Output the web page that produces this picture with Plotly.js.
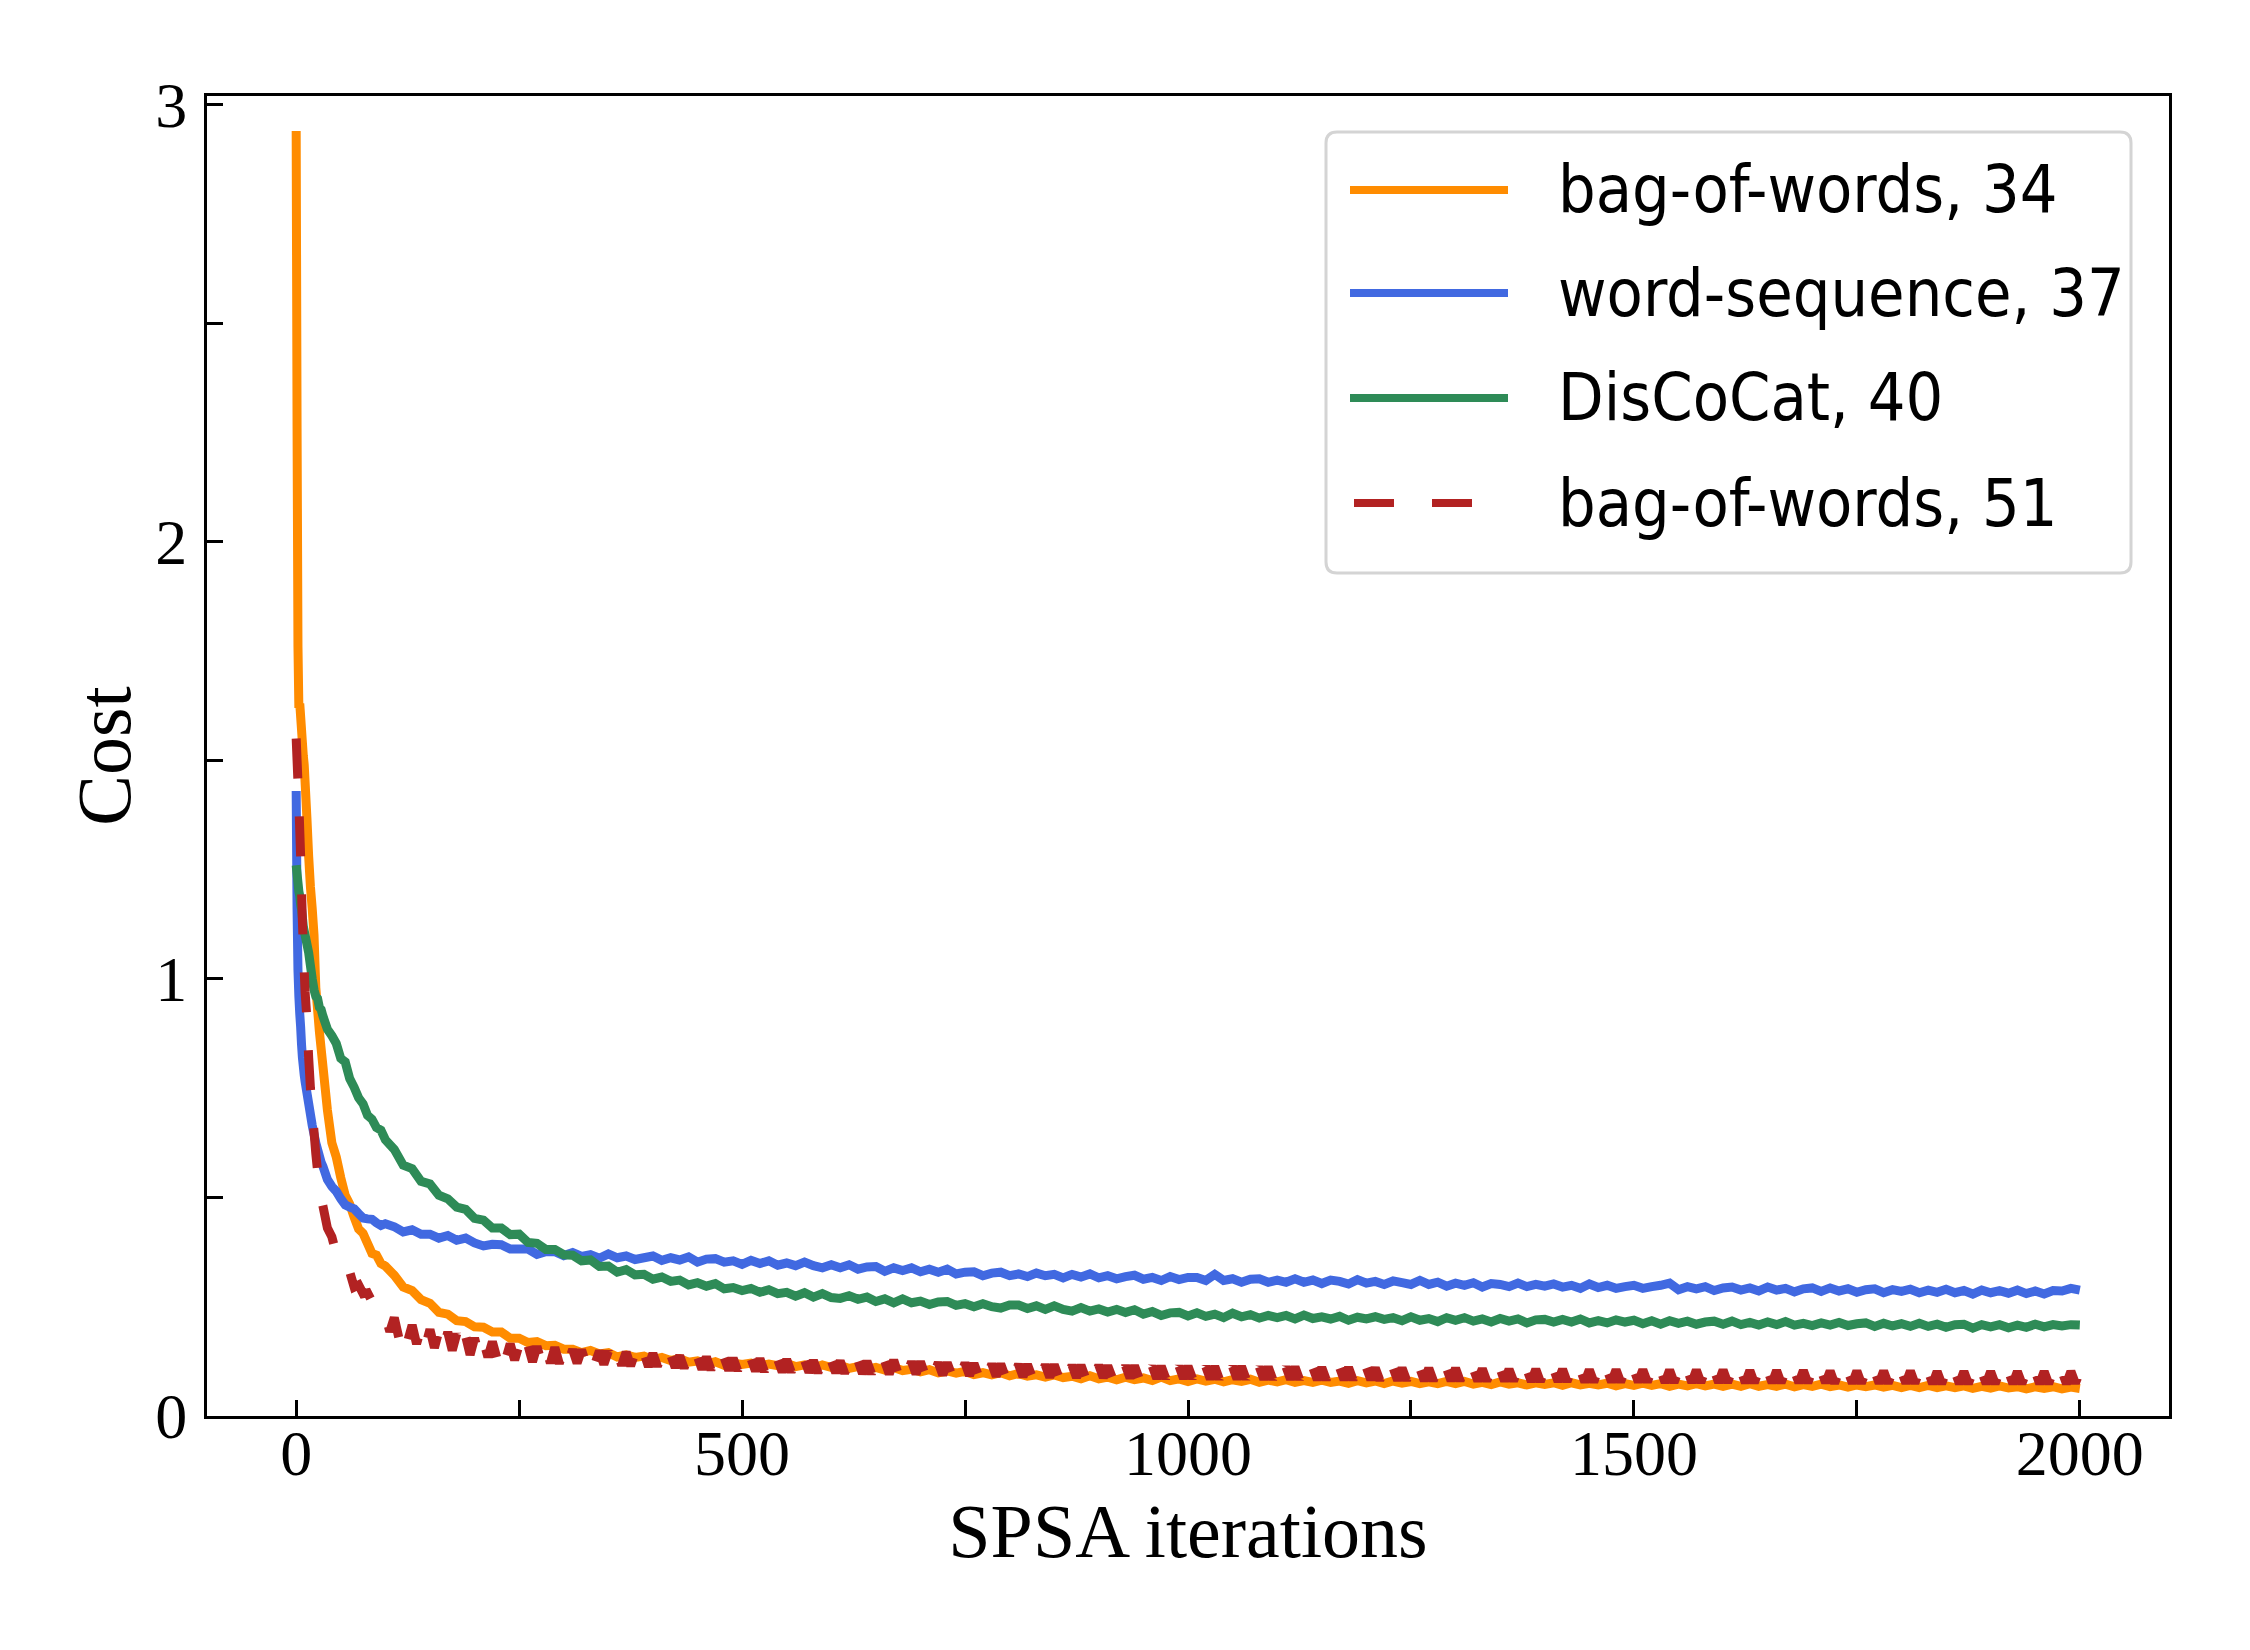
<!DOCTYPE html>
<html>
<head>
<meta charset="utf-8">
<script src="https://cdn.plot.ly/plotly-3.0.1.min.js"></script>
<style>
  html, body { margin: 0; padding: 0; background: #ffffff; }
  #chart { width: 2250px; height: 1650px; }
</style>
</head>
<body>
<div id="chart"></div>
<script>
// ---- data ----
const iterations = [
  0,1,2,3,4,5,6,7,8,9,10,12,14,16,18,20,22,24,26,28,30,35,40,45,50,55,60,65,70,75,80,85,90,95,100,
  110,120,130,140,150,160,170,180,190,200,
  210,220,230,240,250,260,270,280,290,300,
  310,320,330,340,350,360,370,380,390,400,
  410,420,430,440,450,460,470,480,490,500,
  510,520,530,540,550,560,570,580,590,600,
  610,620,630,640,650,660,670,680,690,700,
  710,720,730,740,750,760,770,780,790,800,
  810,820,830,840,850,860,870,880,890,900,
  910,920,930,940,950,960,970,980,990,1000,
  1010,1020,1030,1040,1050,1060,1070,1080,1090,1100,
  1110,1120,1130,1140,1150,1160,1170,1180,1190,1200,
  1210,1220,1230,1240,1250,1260,1270,1280,1290,1300,
  1310,1320,1330,1340,1350,1360,1370,1380,1390,1400,
  1410,1420,1430,1440,1450,1460,1470,1480,1490,1500,
  1510,1520,1530,1540,1550,1560,1570,1580,1590,1600,
  1610,1620,1630,1640,1650,1660,1670,1680,1690,1700,
  1710,1720,1730,1740,1750,1760,1770,1780,1790,1800,
  1810,1820,1830,1840,1850,1860,1870,1880,1890,1900,
  1910,1920,1930,1940,1950,1960,1970,1980,1990,2000
];

// the dashed run was read at a finer step (its noise is what shapes the dashes)
const iterationsFine = [
  0,1,2,3,4,5,6,7,8,9,10,12,14,16,18,20,22,24,26,28,30,35,40,45,50,55,60,65,70,75,80,85,90,95,100,
  105,110,115,120,125,130,135,140,145,150,155,160,165,170,175,180,185,190,195,200,
  205,210,215,220,225,230,235,240,245,250,255,260,265,270,275,280,285,290,295,300,
  305,310,315,320,325,330,335,340,345,350,355,360,365,370,375,380,385,390,395,400,
  405,410,415,420,425,430,435,440,445,450,455,460,465,470,475,480,485,490,495,500,
  505,510,515,520,525,530,535,540,545,550,555,560,565,570,575,580,585,590,595,600,
  605,610,615,620,625,630,635,640,645,650,655,660,665,670,675,680,685,690,695,700,
  705,710,715,720,725,730,735,740,745,750,755,760,765,770,775,780,785,790,795,800,
  805,810,815,820,825,830,835,840,845,850,855,860,865,870,875,880,885,890,895,900,
  905,910,915,920,925,930,935,940,945,950,955,960,965,970,975,980,985,990,995,1000,
  1005,1010,1015,1020,1025,1030,1035,1040,1045,1050,1055,1060,1065,1070,1075,1080,1085,1090,1095,1100,
  1105,1110,1115,1120,1125,1130,1135,1140,1145,1150,1155,1160,1165,1170,1175,1180,1185,1190,1195,1200,
  1205,1210,1215,1220,1225,1230,1235,1240,1245,1250,1255,1260,1265,1270,1275,1280,1285,1290,1295,1300,
  1305,1310,1315,1320,1325,1330,1335,1340,1345,1350,1355,1360,1365,1370,1375,1380,1385,1390,1395,1400,
  1405,1410,1415,1420,1425,1430,1435,1440,1445,1450,1455,1460,1465,1470,1475,1480,1485,1490,1495,1500,
  1505,1510,1515,1520,1525,1530,1535,1540,1545,1550,1555,1560,1565,1570,1575,1580,1585,1590,1595,1600,
  1605,1610,1615,1620,1625,1630,1635,1640,1645,1650,1655,1660,1665,1670,1675,1680,1685,1690,1695,1700,
  1705,1710,1715,1720,1725,1730,1735,1740,1745,1750,1755,1760,1765,1770,1775,1780,1785,1790,1795,1800,
  1805,1810,1815,1820,1825,1830,1835,1840,1845,1850,1855,1860,1865,1870,1875,1880,1885,1890,1895,1900,
  1905,1910,1915,1920,1925,1930,1935,1940,1945,1950,1955,1960,1965,1970,1975,1980,1985,1990,1995,2000
];

const bagOfWords34 = [
  2.94,2.26,1.76,1.62,1.63,1.60,1.57,1.54,1.51,1.49,1.45,
  1.37,1.28,1.21,1.16,1.10,0.98,0.93,0.88,0.84,0.80,
  0.70,0.625,0.592,0.545,0.505,0.485,0.455,0.428,0.418,0.395,0.372,0.368,0.349,0.343,
  0.322,0.295,0.287,0.266,0.258,0.237,0.233,0.218,0.216,0.204,
  0.203,0.192,0.192,0.178,0.178,0.168,0.170,0.161,0.162,0.153,
  0.153,0.145,0.150,0.142,0.145,0.135,0.140,0.134,0.137,0.129,
  0.134,0.127,0.131,0.123,0.126,0.119,0.124,0.116,0.121,0.118,
  0.121,0.115,0.119,0.115,0.120,0.113,0.117,0.110,0.117,0.111,
  0.115,0.109,0.113,0.107,0.111,0.105,0.111,0.104,0.107,0.101,
  0.106,0.099,0.103,0.098,0.102,0.095,0.099,0.094,0.099,0.092,
  0.097,0.091,0.094,0.089,0.094,0.088,0.091,0.085,0.092,0.085,
  0.089,0.083,0.089,0.083,0.087,0.081,0.089,0.081,0.085,0.079,
  0.085,0.080,0.084,0.078,0.083,0.079,0.084,0.077,0.082,0.078,
  0.083,0.077,0.081,0.077,0.082,0.077,0.080,0.075,0.081,0.076,
  0.080,0.074,0.080,0.075,0.079,0.074,0.078,0.074,0.079,0.074,
  0.079,0.073,0.077,0.072,0.078,0.073,0.076,0.071,0.076,0.072,
  0.076,0.070,0.076,0.071,0.075,0.071,0.075,0.069,0.074,0.070,
  0.075,0.070,0.074,0.068,0.073,0.069,0.074,0.069,0.073,0.068,
  0.073,0.068,0.074,0.068,0.072,0.068,0.073,0.067,0.072,0.068,
  0.073,0.067,0.071,0.066,0.071,0.067,0.071,0.066,0.070,0.065,
  0.070,0.065,0.070,0.065,0.069,0.065,0.069,0.063,0.068,0.064,
  0.069,0.064,0.067,0.062,0.067,0.063,0.067,0.062,0.066,0.063
];

const wordSequence37 = [
  1.43,1.16,1.02,0.96,0.92,0.89,0.85,0.82,0.80,0.78,0.765,
  0.74,0.715,0.69,0.665,0.645,0.625,0.61,0.595,0.58,0.571,
  0.541,0.525,0.514,0.497,0.483,0.478,0.474,0.463,0.453,0.451,0.45,0.442,0.436,0.44,
  0.433,0.421,0.426,0.416,0.416,0.407,0.413,0.402,0.407,0.396,
  0.389,0.393,0.392,0.382,0.382,0.382,0.370,0.376,0.376,0.367,
  0.374,0.365,0.369,0.361,0.371,0.362,0.366,0.358,0.362,0.366,
  0.356,0.362,0.357,0.364,0.352,0.359,0.360,0.352,0.355,0.347,
  0.356,0.349,0.355,0.345,0.350,0.344,0.352,0.344,0.339,0.346,
  0.339,0.346,0.336,0.341,0.342,0.331,0.339,0.333,0.339,0.330,
  0.336,0.329,0.336,0.325,0.329,0.330,0.321,0.327,0.329,0.321,
  0.325,0.319,0.327,0.321,0.324,0.316,0.324,0.318,0.325,0.316,
  0.321,0.314,0.319,0.322,0.313,0.317,0.310,0.319,0.312,0.317,
  0.317,0.310,0.324,0.310,0.314,0.306,0.313,0.314,0.306,0.311,
  0.306,0.314,0.306,0.311,0.303,0.311,0.308,0.302,0.312,0.304,
  0.308,0.301,0.309,0.305,0.301,0.310,0.301,0.306,0.297,0.304,
  0.299,0.305,0.295,0.303,0.301,0.296,0.304,0.296,0.301,0.297,
  0.302,0.295,0.299,0.292,0.302,0.294,0.299,0.292,0.296,0.299,
  0.292,0.296,0.299,0.304,0.289,0.296,0.291,0.296,0.287,0.293,
  0.295,0.288,0.293,0.286,0.295,0.288,0.292,0.284,0.291,0.293,
  0.285,0.293,0.286,0.291,0.283,0.289,0.291,0.282,0.289,0.285,
  0.290,0.282,0.288,0.283,0.290,0.282,0.287,0.279,0.288,0.282,
  0.287,0.281,0.288,0.280,0.286,0.279,0.287,0.286,0.292,0.288
];

const disCoCat40 = [
  1.26,1.24,1.22,1.20,1.19,1.17,1.16,1.14,1.12,1.11,1.10,
  1.08,1.06,1.03,1.00,0.975,0.96,0.955,0.935,0.93,0.915,
  0.885,0.87,0.852,0.818,0.81,0.772,0.752,0.728,0.714,0.688,0.679,0.66,0.654,0.632,
  0.610,0.574,0.566,0.537,0.531,0.505,0.497,0.478,0.473,0.452,
  0.448,0.430,0.430,0.415,0.416,0.397,0.395,0.381,0.381,0.369,
  0.368,0.355,0.357,0.342,0.343,0.329,0.335,0.323,0.324,0.313,
  0.318,0.308,0.311,0.300,0.305,0.297,0.303,0.291,0.294,0.287,
  0.292,0.283,0.289,0.280,0.283,0.274,0.282,0.272,0.280,0.271,
  0.269,0.275,0.267,0.272,0.262,0.268,0.259,0.268,0.259,0.263,
  0.255,0.261,0.262,0.253,0.257,0.250,0.257,0.250,0.247,0.254,
  0.254,0.246,0.252,0.244,0.252,0.244,0.240,0.248,0.240,0.245,
  0.238,0.244,0.237,0.243,0.233,0.239,0.230,0.236,0.237,0.229,
  0.236,0.228,0.233,0.225,0.235,0.227,0.232,0.224,0.230,0.225,
  0.230,0.222,0.231,0.223,0.227,0.222,0.228,0.219,0.226,0.222,
  0.227,0.221,0.225,0.218,0.227,0.219,0.223,0.216,0.225,0.219,
  0.225,0.217,0.222,0.215,0.223,0.217,0.222,0.213,0.220,0.221,
  0.215,0.221,0.215,0.222,0.213,0.218,0.213,0.220,0.215,0.219,
  0.211,0.218,0.210,0.218,0.212,0.217,0.210,0.215,0.217,0.210,
  0.217,0.209,0.214,0.208,0.215,0.209,0.216,0.208,0.212,0.207,
  0.213,0.208,0.214,0.207,0.211,0.213,0.205,0.212,0.206,0.211,
  0.205,0.212,0.205,0.210,0.203,0.209,0.210,0.201,0.209,0.204,
  0.209,0.202,0.208,0.203,0.210,0.204,0.209,0.206,0.209,0.208
];

const bagOfWords51 = [
  1.55,1.50,1.45,1.40,1.34,1.28,1.20,1.13,1.07,1.02,0.97,
  0.91,0.82,0.75,0.70,0.65,0.60,0.56,0.53,0.50,0.48,
  0.43,0.41,0.37,0.37,0.335,0.33,0.295,0.30,0.28,0.282,0.262,0.258,0.228,0.23,
  0.193,0.225,0.180,0.215,0.171,0.208,0.165,0.202,0.160,0.198,0.156,0.195,0.153,0.192,0.150,0.188,0.145,0.183,0.140,0.178,
  0.138,0.173,0.135,0.170,0.133,0.168,0.130,0.165,0.128,0.163,0.126,0.161,0.124,0.159,0.122,0.158,0.121,0.157,0.120,0.156,
  0.122,0.152,0.121,0.151,0.120,0.150,0.119,0.149,0.118,0.148,0.117,0.147,0.116,0.146,0.115,0.145,0.114,0.144,0.113,0.143,
  0.114,0.141,0.112,0.140,0.111,0.138,0.110,0.137,0.108,0.136,0.107,0.135,0.106,0.134,0.105,0.133,0.105,0.132,0.104,0.132,
  0.104,0.131,0.103,0.131,0.102,0.130,0.102,0.129,0.101,0.129,0.101,0.128,0.100,0.128,0.100,0.127,0.099,0.127,0.099,0.127,
  0.099,0.126,0.098,0.126,0.098,0.127,0.097,0.125,0.097,0.125,0.097,0.125,0.096,0.128,0.096,0.124,0.096,0.124,0.096,0.124,
  0.095,0.123,0.095,0.122,0.094,0.122,0.094,0.121,0.093,0.121,0.093,0.120,0.092,0.120,0.092,0.119,0.091,0.119,0.091,0.119,
  0.091,0.118,0.090,0.118,0.090,0.118,0.090,0.117,0.089,0.117,0.089,0.117,0.089,0.116,0.088,0.116,0.088,0.116,0.088,0.116,
  0.088,0.115,0.088,0.115,0.087,0.115,0.087,0.115,0.087,0.114,0.087,0.114,0.086,0.114,0.086,0.114,0.086,0.114,0.086,0.114,
  0.086,0.114,0.086,0.113,0.085,0.113,0.085,0.113,0.085,0.113,0.085,0.113,0.085,0.112,0.084,0.112,0.084,0.112,0.084,0.112,
  0.084,0.112,0.084,0.112,0.084,0.111,0.084,0.111,0.083,0.111,0.083,0.111,0.083,0.111,0.083,0.111,0.083,0.111,0.083,0.111,
  0.083,0.110,0.082,0.110,0.082,0.110,0.082,0.110,0.082,0.109,0.082,0.109,0.081,0.109,0.081,0.109,0.081,0.109,0.081,0.109,
  0.081,0.108,0.081,0.108,0.080,0.108,0.080,0.108,0.080,0.108,0.080,0.107,0.080,0.107,0.079,0.107,0.079,0.107,0.079,0.107,
  0.079,0.107,0.079,0.107,0.079,0.106,0.079,0.106,0.078,0.106,0.078,0.106,0.078,0.106,0.078,0.106,0.078,0.106,0.078,0.106,
  0.078,0.106,0.078,0.105,0.078,0.105,0.077,0.105,0.077,0.105,0.077,0.105,0.077,0.105,0.077,0.105,0.077,0.105,0.077,0.105,
  0.077,0.105,0.077,0.104,0.076,0.104,0.076,0.104,0.076,0.104,0.076,0.104,0.076,0.104,0.076,0.104,0.076,0.104,0.076,0.104,
  0.076,0.104,0.076,0.103,0.075,0.103,0.075,0.103,0.075,0.103,0.075,0.103,0.075,0.103,0.075,0.103,0.075,0.103,0.075,0.103,
  0.075,0.103,0.075,0.102,0.074,0.102,0.074,0.102,0.074,0.102,0.074,0.102,0.074,0.102,0.074,0.102,0.074,0.102,0.074,0.102,
  0.074,0.102,0.074,0.102,0.074,0.102,0.074,0.102,0.074,0.102,0.074,0.102,0.074,0.102,0.074,0.102,0.074,0.102,0.075,0.101
];

const seriesNames = ["bag-of-words, 34", "word-sequence, 37", "DisCoCat, 40", "bag-of-words, 51"];
const seriesValues = [bagOfWords34, wordSequence37, disCoCat40, bagOfWords51];
const seriesIterations = [iterations, iterations, iterations, iterationsFine];

const xTickVals = [0, 250, 500, 750, 1000, 1250, 1500, 1750, 2000];
const xTickText = ["0", "", "500", "", "1000", "", "1500", "", "2000"];
const yTickVals = [0, 0.5, 1, 1.5, 2, 2.5, 3];
const yTickText = ["0", "", "1", "", "2", "", "3"];

const xTitle = "SPSA iterations";
const yTitle = "Cost";

// ---- styles ----
const colors = ["#ff8c00", "#4169e1", "#2e8b57", "#b22222"];
const dashes = ["solid", "solid", "solid", "40px,38px"];
const LW = 9;
const LEG_LW = 8;

const traces = seriesValues.map((vals, i) => ({
  type: "scatter",
  mode: "lines",
  x: seriesIterations[i],
  y: vals,
  name: seriesNames[i],
  line: { color: colors[i], width: LW, dash: dashes[i], simplify: false },
  showlegend: false,
  hoverinfo: "skip"
}));

// plot-area geometry (pixels) used to place the hand-drawn legend
const W = 2250, H = 1650;
const M = { l: 207, r: 81, t: 96, b: 234 };
const PW = W - M.l - M.r, PH = H - M.t - M.b;
const px = v => (v - M.l) / PW;
const py = v => (H - M.b - v) / PH;

const serif = "'Liberation Serif', 'Times New Roman', serif";
const sans = "'DejaVu Sans Condensed', 'DejaVu Sans', 'Liberation Sans', sans-serif";

// legend box (rounded)
const bx0 = px(1326), bx1 = px(2131), by0 = py(573), by1 = py(132);
const rx = 11 / PW, ry = 11 / PH;
const boxPath =
  `M ${bx0 + rx},${by0} L ${bx1 - rx},${by0} Q ${bx1},${by0} ${bx1},${by0 + ry} ` +
  `L ${bx1},${by1 - ry} Q ${bx1},${by1} ${bx1 - rx},${by1} ` +
  `L ${bx0 + rx},${by1} Q ${bx0},${by1} ${bx0},${by1 - ry} ` +
  `L ${bx0},${by0 + ry} Q ${bx0},${by0} ${bx0 + rx},${by0} Z`;

const legendRowsY = [190, 293, 398, 503];
const legendX0 = [1350, 1350, 1350, 1354];
const legendX1 = [1508, 1508, 1508, 1500];
const shapes = [{
  type: "path", xref: "paper", yref: "paper", path: boxPath,
  fillcolor: "rgba(255,255,255,0.85)", line: { color: "#d4d4d4", width: 3 }, layer: "above"
}];
const annotations = [];
seriesNames.forEach((name, i) => {
  shapes.push({
    type: "line", xref: "paper", yref: "paper",
    x0: px(legendX0[i]), x1: px(legendX1[i]), y0: py(legendRowsY[i]), y1: py(legendRowsY[i]),
    line: { color: colors[i], width: LEG_LW, dash: dashes[i] }, layer: "above"
  });
  annotations.push({
    xref: "paper", yref: "paper", x: px(1556), y: py(legendRowsY[i]),
    xanchor: "left", yanchor: "middle", showarrow: false, text: name,
    font: { family: sans, size: 66, color: "#000000" }
  });
});

const axisCommon = {
  showgrid: false, zeroline: false,
  showline: true, linecolor: "#000000", linewidth: 3, mirror: true,
  ticks: "inside", ticklen: 16, tickwidth: 3, tickcolor: "#000000",
  tickfont: { family: serif, size: 64, color: "#000000" },
  tickmode: "array"
};

const layout = {
  width: W, height: H,
  margin: M,
  paper_bgcolor: "#ffffff", plot_bgcolor: "#ffffff",
  showlegend: false,
  xaxis: Object.assign({}, axisCommon, {
    range: [-100, 2100],
    tickvals: xTickVals, ticktext: xTickText,
    ticklabelstandoff: -21,
    title: { text: xTitle, font: { family: serif, size: 76, color: "#000000" }, standoff: 10 }
  }),
  yaxis: Object.assign({}, axisCommon, {
    range: [0, 3.02],
    tickvals: yTickVals, ticktext: yTickText,
    ticklabelstandoff: 4,
    title: { text: yTitle, font: { family: serif, size: 76, color: "#000000" }, standoff: 0 }
  }),
  shapes: shapes,
  annotations: annotations
};

Plotly.newPlot("chart", traces, layout, { staticPlot: true, displayModeBar: false });
</script>
</body>
</html>
